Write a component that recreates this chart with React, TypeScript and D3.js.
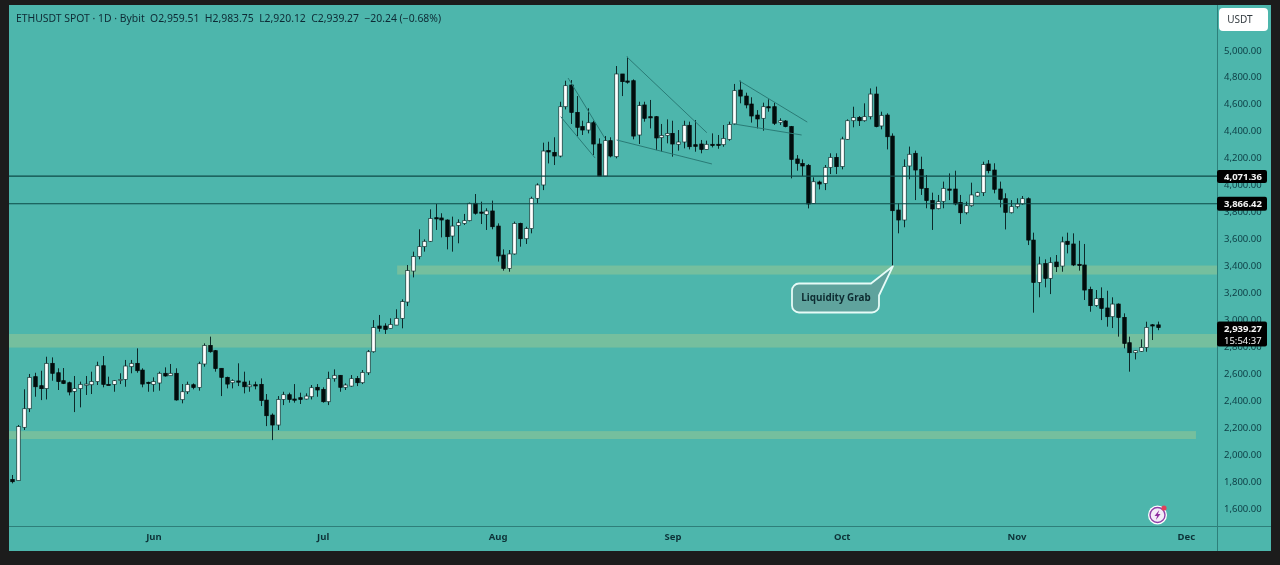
import { useEffect, useRef } from "react";
import * as d3 from "d3";

// ETHUSDT daily candles (index 0 = May 7)
const opens = [1812,1803,2199,2337,2575,2508,2486,2674,2604,2545,2530,2466,2486,2513,2515,2538,2656,2518,2518,2548,2555,2649,2674,2624,2533,2518,2528,2600,2582,2600,2404,2463,2515,2495,2669,2807,2768,2637,2570,2530,2543,2535,2500,2515,2518,2401,2290,2216,2406,2441,2409,2419,2409,2426,2496,2481,2389,2560,2585,2496,2505,2562,2530,2604,2760,2951,2951,2934,2958,3008,3129,3359,3466,3540,3580,3755,3753,3738,3619,3698,3713,3733,3862,3797,3780,3805,3693,3478,3379,3486,3713,3599,3674,3899,3998,4253,4240,4213,4579,4740,4537,4431,4406,4460,4302,4064,4327,4208,4822,4770,4772,4369,4592,4505,4505,4349,4366,4381,4300,4317,4441,4297,4302,4262,4300,4300,4297,4337,4451,4703,4658,4599,4517,4493,4579,4579,4461,4473,4431,4191,4158,4144,3861,4020,4010,4129,4203,4134,4337,4475,4500,4475,4505,4673,4436,4517,4361,3812,3738,4139,4233,4114,3973,3882,3822,3877,3968,3968,3867,3792,3844,3916,3941,4154,4109,3968,3896,3792,3837,3857,3896,3589,3275,3414,3305,3426,3396,3580,3560,3409,3404,3223,3104,3156,3085,3020,3114,3015,2827,2753,2763,2792,2960,2959.51];
const highs = [1845,2216,2481,2595,2604,2619,2723,2718,2637,2639,2538,2580,2538,2580,2612,2686,2728,2575,2550,2600,2699,2699,2785,2637,2538,2570,2612,2644,2669,2637,2520,2538,2525,2686,2822,2872,2773,2637,2575,2555,2674,2612,2545,2538,2562,2446,2302,2431,2463,2456,2520,2456,2451,2513,2520,2496,2612,2629,2587,2525,2587,2580,2624,2773,2995,3033,2971,3008,3075,3149,3404,3503,3669,3594,3817,3857,3788,3743,3763,3743,3783,3867,3931,3874,3825,3882,3713,3520,3515,3726,3718,3688,3911,4010,4312,4319,4352,4616,4772,4777,4658,4475,4567,4475,4344,4361,4352,4881,4822,4950,4782,4616,4616,4629,4510,4451,4485,4475,4406,4475,4468,4480,4332,4327,4381,4369,4443,4468,4748,4772,4683,4649,4554,4609,4634,4609,4493,4480,4436,4220,4188,4153,4055,4030,4146,4233,4233,4356,4485,4579,4510,4604,4715,4728,4542,4530,4381,3862,4188,4283,4253,4208,4072,3941,3924,4023,4084,4104,3924,3874,4015,3948,4171,4183,4159,4023,3936,3886,3899,3916,3906,3644,3466,3446,3461,3478,3614,3644,3639,3584,3560,3243,3218,3238,3213,3164,3119,3045,2872,2773,2852,2983,2966,2983.75];
const lows = [1783,1803,2179,2312,2426,2401,2406,2545,2476,2520,2436,2312,2347,2439,2446,2513,2496,2513,2463,2520,2500,2600,2604,2496,2463,2463,2471,2575,2580,2397,2377,2446,2481,2471,2649,2753,2612,2431,2488,2488,2505,2451,2463,2481,2357,2208,2104,2179,2364,2382,2382,2372,2406,2406,2426,2382,2364,2538,2463,2476,2500,2505,2520,2587,2753,2909,2892,2934,2958,2934,3099,3312,3446,3503,3575,3664,3609,3520,3503,3565,3701,3728,3778,3708,3664,3669,3429,3362,3354,3481,3540,3560,3639,3862,3960,4158,4146,4203,4559,4451,4361,4369,4381,4220,4064,4064,4203,4196,4658,4750,4337,4302,4468,4418,4257,4245,4307,4208,4253,4270,4262,4245,4233,4262,4277,4267,4282,4327,4443,4604,4567,4461,4418,4401,4542,4443,4443,4426,4047,4104,4064,3824,3857,3965,3960,4079,4079,4114,4332,4426,4436,4468,4485,4426,4411,4262,3395,3639,3684,4040,3886,3924,3825,3664,3817,3825,3886,3847,3708,3780,3837,3911,3916,4084,3936,3832,3668,3787,3824,3852,3552,3050,3164,3238,3188,3352,3354,3490,3396,3362,3144,3057,3094,2995,2946,2936,2872,2785,2612,2703,2758,2760,2847,2920.12];
const closes = [1795,2204,2337,2570,2500,2486,2674,2600,2538,2525,2461,2486,2518,2520,2540,2656,2518,2513,2545,2555,2654,2674,2619,2520,2525,2538,2600,2580,2600,2402,2463,2518,2495,2671,2807,2760,2635,2570,2520,2545,2538,2500,2513,2508,2397,2285,2216,2406,2441,2406,2404,2406,2431,2493,2476,2389,2560,2585,2496,2513,2560,2530,2607,2760,2939,2934,2926,2963,3008,3132,3362,3466,3540,3580,3750,3748,3738,3614,3693,3718,3733,3862,3788,3792,3805,3688,3471,3379,3486,3713,3599,3674,3899,3998,4250,4243,4213,4579,4735,4537,4426,4406,4460,4302,4064,4327,4213,4822,4765,4762,4361,4587,4493,4498,4347,4366,4381,4302,4317,4441,4282,4285,4262,4300,4295,4295,4344,4448,4698,4658,4592,4510,4488,4579,4574,4456,4475,4431,4188,4158,4139,3857,4022,4005,4129,4203,4134,4339,4475,4498,4475,4505,4673,4431,4515,4356,3807,3738,4134,4226,4109,3973,3882,3820,3874,3973,3963,3857,3792,3844,3924,3941,4149,4104,3966,3891,3795,3837,3857,3896,3589,3275,3411,3305,3421,3391,3575,3557,3404,3404,3218,3102,3154,3082,3020,3114,3015,2822,2753,2768,2792,2941,2953,2939.27];

const priceTicks = [1600,1800,2000,2200,2400,2600,2800,3000,3200,3400,3600,3800,4000,4200,4400,4600,4800,5000];
const monthIndex = [25,55,86,117,147,178,208];
const monthNames = ["Jun","Jul","Aug","Sep","Oct","Nov","Dec"];

// support zones: price from, price to, start index, end index
const zoneTops = [3400, 2892, 2171];
const zoneBottoms = [3333, 2791, 2112];
const zoneStarts = [68.2, -1, -1];
const zoneEnds = [216, 216, 209.8];

const levels = [4071.36, 3866.42];

// wedge lines drawn on the chart: [index, price, index, price]
const trendLines = [
  [98.5,4792,105,4347],
  [97.2,4505,103.3,4198],
  [108.9,4950,123.1,4386],
  [107.1,4332,124,4154],
  [128.8,4772,140.9,4465],
  [127.9,4451,139.9,4369],
];

const headerText = "ETHUSDT SPOT · 1D · Bybit  O2,959.51  H2,983.75  L2,920.12  C2,939.27  −20.24 (−0.68%)";
const font = "'Noto Sans', sans-serif";

export default function App() {
  const svgRef = useRef<SVGSVGElement>(null);

  useEffect(() => {
    if (!svgRef.current) return;
    const svgEl = d3.select(svgRef.current);
    svgEl.selectAll("*").remove();

    const width = 1280;
    const height = 565;
    const plot = { left: 9, right: 1217, top: 5, bottom: 526, axisRight: 1271, axisBottom: 551 };

    // the screenshot is a soft jpeg, a tiny blur gets the same look
    svgEl.append("defs").append("filter")
      .attr("id", "soft")
      .attr("filterUnits", "userSpaceOnUse")
      .attr("x", 0).attr("y", 0).attr("width", width).attr("height", height)
      .append("feGaussianBlur").attr("stdDeviation", 0.35);
    const svg = svgEl.append("g").attr("filter", "url(#soft)");

    const x = d3.scaleLinear().domain([0, 203]).range([12.4, 1157.6]);
    const y = d3.scaleLinear().domain([1600, 5000]).range([508, 50]);

    svg.append("rect").attr("width", width).attr("height", height).attr("fill", "#1c1a1a");
    svg.append("rect")
      .attr("x", plot.left).attr("y", plot.top)
      .attr("width", plot.axisRight - plot.left)
      .attr("height", plot.axisBottom - plot.top)
      .attr("fill", "#4db6ac");

    const chart = svg.append("g");

    // Zones
    chart.selectAll(".zone")
      .data(zoneTops)
      .enter()
      .append("rect")
      .attr("class", "zone")
      .attr("x", (_, i) => Math.max(x(zoneStarts[i]), plot.left))
      .attr("y", d => y(d))
      .attr("width", (_, i) => Math.min(x(zoneEnds[i]), plot.right) - Math.max(x(zoneStarts[i]), plot.left))
      .attr("height", (d, i) => y(zoneBottoms[i]) - y(d))
      .attr("fill", "#74bf9e");

    // Candles
    const candles = chart.selectAll(".candle")
      .data(closes)
      .enter()
      .append("g")
      .attr("class", "candle")
      .attr("transform", (_, i) => `translate(${Math.round(x(i))},0)`);

    candles.append("line")
      .attr("x1", 0.5).attr("x2", 0.5)
      .attr("y1", (_, i) => y(highs[i]))
      .attr("y2", (_, i) => y(lows[i]))
      .attr("stroke", "#0b2a2a")
      .attr("stroke-width", 1);

    candles.append("rect")
      .attr("x", -1.25)
      .attr("width", 3.5)
      .attr("y", (d, i) => y(Math.max(opens[i], d)))
      .attr("height", (d, i) => Math.max(1.2, Math.abs(y(opens[i]) - y(d))))
      .attr("fill", (d, i) => (d >= opens[i] ? "#ffffff" : "#050808"))
      .attr("stroke", (d, i) => (d >= opens[i] ? "#12302f" : "#050808"))
      .attr("stroke-width", 0.7);

    // Wedges
    chart.selectAll(".trend")
      .data(trendLines)
      .enter()
      .append("line")
      .attr("class", "trend")
      .attr("x1", d => x(d[0])).attr("y1", d => y(d[1]))
      .attr("x2", d => x(d[2])).attr("y2", d => y(d[3]))
      .attr("stroke", "#2a7b76")
      .attr("stroke-width", 1);

    // Horizontal levels (drawn 1px under the scale, same as the picture)
    chart.selectAll(".level")
      .data(levels)
      .enter()
      .append("line")
      .attr("class", "level")
      .attr("x1", plot.left).attr("x2", plot.right)
      .attr("y1", d => y(d) + 1).attr("y2", d => y(d) + 1)
      .attr("stroke", "#0f4a48")
      .attr("stroke-width", 1.1);

    // Axis frame
    svg.append("line").attr("x1", plot.right + 0.5).attr("x2", plot.right + 0.5)
      .attr("y1", plot.top).attr("y2", plot.axisBottom)
      .attr("stroke", "#2e7f7a");
    svg.append("line").attr("x1", plot.left).attr("x2", plot.axisRight)
      .attr("y1", plot.bottom + 0.5).attr("y2", plot.bottom + 0.5)
      .attr("stroke", "#2e7f7a");

    // Price axis
    const priceAxis = svg.append("g")
      .attr("transform", `translate(${plot.right},0)`)
      .call(d3.axisRight(y).tickValues(priceTicks).tickSize(0).tickPadding(7).tickFormat(d3.format(",.2f") as any));
    priceAxis.select(".domain").remove();
    priceAxis.selectAll("text")
      .attr("fill", "#0d3d44")
      .style("font-family", font)
      .style("font-size", "9.5px");

    // Time axis
    const timeAxis = svg.append("g")
      .attr("transform", `translate(0,${plot.bottom})`)
      .call(d3.axisBottom(x).tickValues(monthIndex).tickSize(0).tickPadding(7).tickFormat((_, i) => monthNames[i]));
    timeAxis.select(".domain").remove();
    timeAxis.selectAll("text")
      .attr("fill", "#0d3338")
      .style("font-family", font)
      .style("font-weight", "700")
      .style("font-size", "9.5px");

    // Header
    svg.append("text")
      .attr("x", 16).attr("y", 22)
      .attr("xml:space", "preserve")
      .style("white-space", "pre")
      .attr("fill", "#0f2a34")
      .style("font-family", font)
      .style("font-size", "10.4px")
      .text(headerText);

    // Currency button
    svg.append("rect").attr("x", 1219).attr("y", 8).attr("width", 49).attr("height", 23).attr("rx", 4).attr("fill", "#ffffff");
    svg.append("text").attr("x", 1240).attr("y", 23)
      .attr("text-anchor", "middle").attr("fill", "#333b40")
      .style("font-family", font).style("font-size", "10px").text("USDT");

    // Price tags
    const tagX = 1217;
    const tag = (top: number, h: number, lines: string[]) => {
      svg.append("rect").attr("x", tagX).attr("y", top).attr("width", 50).attr("height", h).attr("rx", 2).attr("fill", "#060606");
      lines.forEach((t, i) => {
        svg.append("text").attr("x", tagX + 7).attr("y", top + 10 + i * 12)
          .attr("fill", "#f4f4f4")
          .style("font-family", font).style("font-size", "9.5px")
          .style("font-weight", i === 0 ? "700" : "400")
          .text(t);
      });
    };
    tag(y(levels[0]) - 5, 13, [d3.format(",.2f")(levels[0])]);
    tag(y(levels[1]) - 6, 14, [d3.format(",.2f")(levels[1])]);
    tag(y(closes[closes.length - 1]) - 6, 25, [d3.format(",.2f")(closes[closes.length - 1]), "15:54:37"]);

    // Liquidity Grab callout
    const box = { x: 792, y: 283.5, w: 87, h: 29, r: 7 };
    const tip = [x(156) + 0.5, y(lows[156])];
    const bubble = d3.path();
    bubble.moveTo(box.x + box.r, box.y);
    bubble.lineTo(box.x + 79, box.y);
    bubble.lineTo(tip[0], tip[1]);
    bubble.lineTo(box.x + box.w, box.y + 12);
    bubble.lineTo(box.x + box.w, box.y + box.h - box.r);
    bubble.arcTo(box.x + box.w, box.y + box.h, box.x + box.w - box.r, box.y + box.h, box.r);
    bubble.lineTo(box.x + box.r, box.y + box.h);
    bubble.arcTo(box.x, box.y + box.h, box.x, box.y + box.h - box.r, box.r);
    bubble.lineTo(box.x, box.y + box.r);
    bubble.arcTo(box.x, box.y, box.x + box.r, box.y, box.r);
    bubble.closePath();
    svg.append("path").attr("d", bubble.toString())
      .attr("fill", "#5fa39d").attr("stroke", "#e6fbf7").attr("stroke-width", 1.8).attr("stroke-linejoin", "round");
    svg.append("text").attr("x", box.x + box.w / 2 + 0.5).attr("y", 301)
      .attr("text-anchor", "middle").attr("fill", "#0e2c30")
      .style("font-family", font).style("font-weight", "700").style("font-size", "9.9px")
      .text("Liquidity Grab");

    // Notification badge
    const badge = svg.append("g").attr("transform", "translate(1157.5,515)");
    badge.append("circle").attr("r", 9.5).attr("fill", "#ffffff");
    badge.append("circle").attr("r", 7.5).attr("fill", "#f3ecf8").attr("stroke", "#8e3fa8").attr("stroke-width", 1.4);
    badge.append("path").attr("d", "M1.8,-5 L-3,1 L-0.4,1 L-1.6,5 L3,-1 L0.4,-1 Z").attr("fill", "#8e2fa0");
    badge.append("circle").attr("cx", 6.5).attr("cy", -7).attr("r", 2.6).attr("fill", "#e2405a");
  }, []);

  return (
    <svg
      ref={svgRef}
      width={1280}
      height={565}
      style={{ position: "absolute", left: 0, top: 0, display: "block" }}
    />
  );
}
